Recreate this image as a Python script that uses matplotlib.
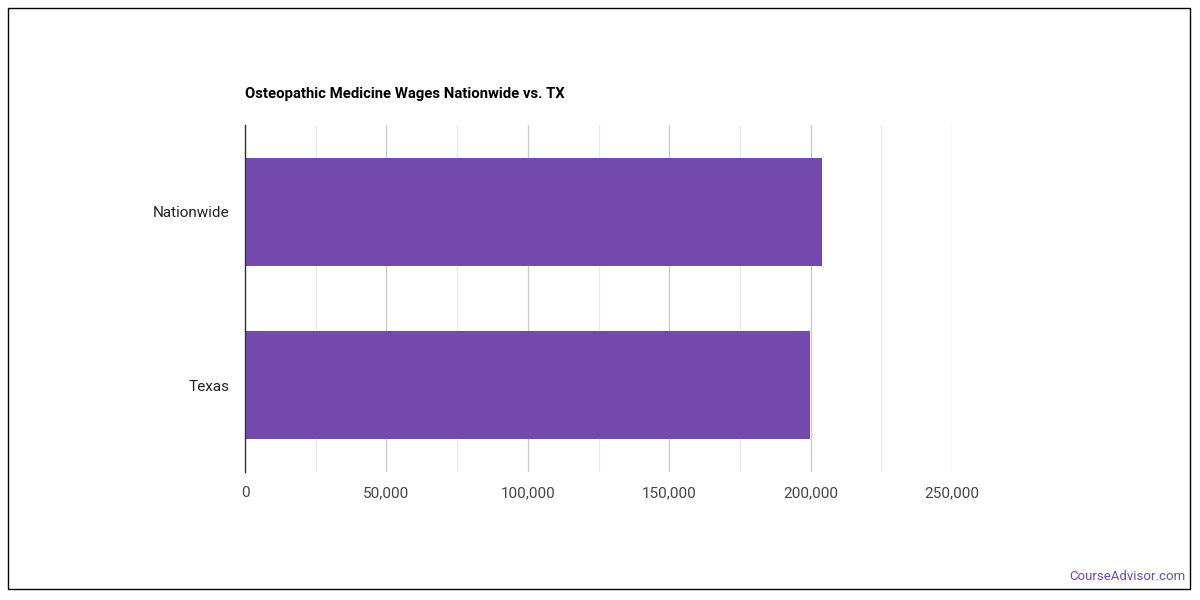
import matplotlib
matplotlib.use("Agg")
import matplotlib.pyplot as plt
from matplotlib.patches import Rectangle
from matplotlib.ticker import FuncFormatter

categories = ["Nationwide", "Texas"]
wages = [204000, 199800]
x_ticks = [0, 50000, 100000, 150000, 200000, 250000]
minor_ticks = [25000, 75000, 125000, 175000, 225000]

plt.rcParams["font.family"] = ["Roboto", "DejaVu Sans"]

fig = plt.figure(figsize=(12, 6), dpi=100)
ax = fig.add_axes([245 / 1200, 1 - 472 / 600, 707 / 1200, 347 / 600])

pos = list(range(len(categories)))
ax.barh(pos, wages, height=0.62, color="#7449ae", zorder=3)
ax.set_ylim(len(categories) - 0.5, -0.5)
ax.set_xlim(0, 250000)

ax.set_yticks(pos)
ax.set_yticklabels(categories, fontsize=11, color="#222222")
ax.set_xticks(x_ticks)
ax.set_xticks(minor_ticks, minor=True)
ax.xaxis.set_major_formatter(FuncFormatter(lambda v, p: f"{int(v):,}"))
ax.tick_params(axis="x", which="both", length=0, labelsize=11, labelcolor="#444444", pad=10)
ax.tick_params(axis="y", length=0, pad=11)

ax.grid(axis="x", which="major", color="#cccccc", linewidth=1, zorder=0)
ax.grid(axis="x", which="minor", color="#ebebeb", linewidth=1, zorder=0)
for s in ["top", "right", "bottom"]:
    ax.spines[s].set_visible(False)
ax.spines["left"].set_color("#333333")
ax.spines["left"].set_linewidth(1)
ax.spines["left"].set_zorder(4)

fig.text(245 / 1200, 1 - 94 / 600, "Osteopathic Medicine Wages Nationwide vs. TX",
         fontsize=10.7, fontweight="bold", color="#000000", va="center", ha="left")
fig.text(1185 / 1200, 1 - 577 / 600, "CourseAdvisor.com", fontsize=9.5,
         color="#6f4bb0", ha="right", va="center")

fig.patches.append(Rectangle((8 / 1200, 1 - 589 / 600), 1182 / 1200, 581 / 600,
                             transform=fig.transFigure, fill=False,
                             edgecolor="#000000", linewidth=1))

fig.savefig("out.png", dpi=100, facecolor="white")
